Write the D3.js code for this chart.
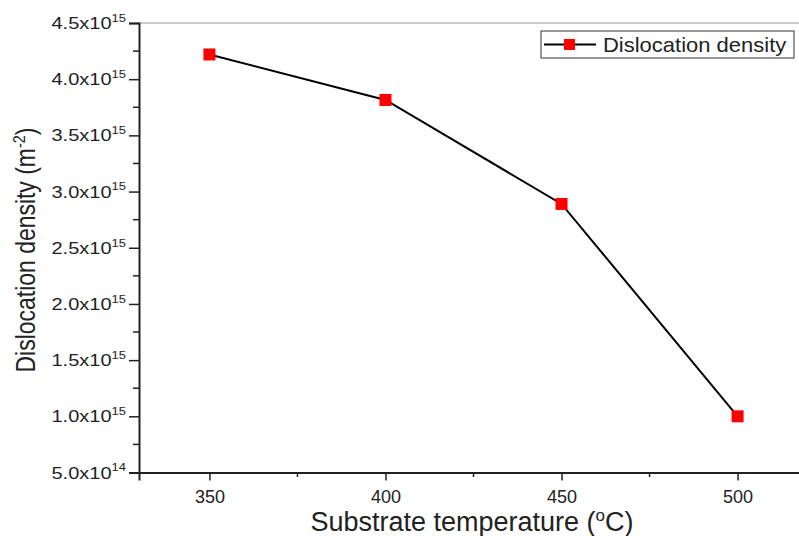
<!DOCTYPE html>
<html>
<head>
<meta charset="utf-8">
<script src="https://cdn.jsdelivr.net/npm/d3@7"></script>
<style>
  body { margin: 0; background: #fff; }
  text { font-family: "Liberation Sans", Arial, sans-serif; fill: #222; }
</style>
</head>
<body>
<div id="chart"></div>
<script>
var width = 799;
var height = 536;

// data
var temperatures = [350, 400, 450, 500];
var densities = [4.22e15, 3.815e15, 2.89e15, 1.0e15];
var xTicks = [350, 400, 450, 500];
var yTicks = [5e14, 1e15, 1.5e15, 2e15, 2.5e15, 3e15, 3.5e15, 4e15, 4.5e15];
var yTickLabels = ["5.0", "1.0", "1.5", "2.0", "2.5", "3.0", "3.5", "4.0", "4.5"];
var yTickExp = ["14", "15", "15", "15", "15", "15", "15", "15", "15"];
var seriesName = "Dislocation density";

var x = d3.scaleLinear().domain([330, 520]).range([139, 808]);
var y = d3.scaleLinear().domain([5e14, 4.5e15]).range([472.5, 23]);

var svg = d3.select("#chart").append("svg")
    .attr("width", width)
    .attr("height", height);

// top frame line (thin grey)
svg.append("line")
    .attr("x1", x(330)).attr("x2", width)
    .attr("y1", y(4.5e15)).attr("y2", y(4.5e15))
    .attr("stroke", "#999").attr("stroke-width", 1);

// minor ticks
var yMinor = d3.range(7.5e14, 4.5e15, 5e14);
svg.selectAll(".yminor").data(yMinor).enter().append("line")
    .attr("x1", 133).attr("x2", 139)
    .attr("y1", function(d){ return y(d); })
    .attr("y2", function(d){ return y(d); })
    .attr("stroke", "#222").attr("stroke-width", 1.5);

var xMinor = [375, 425, 475];
svg.selectAll(".xminor").data(xMinor).enter().append("line")
    .attr("x1", function(d){ return x(d); })
    .attr("x2", function(d){ return x(d); })
    .attr("y1", 472.5).attr("y2", 477)
    .attr("stroke", "#222").attr("stroke-width", 1.5);

// x axis
var xAxis = svg.append("g")
    .attr("transform", "translate(0," + 472.5 + ")")
    .call(d3.axisBottom(x).tickValues(xTicks).tickSizeOuter(0).tickSize(8).tickPadding(10));
xAxis.select(".domain").attr("stroke", "#222").attr("stroke-width", 2);
xAxis.selectAll(".tick line").attr("stroke", "#222").attr("stroke-width", 1.5);
xAxis.selectAll(".tick text")
    .style("font-family", "Liberation Sans, Arial, sans-serif")
    .attr("font-size", 18).attr("fill", "#222");

// y axis
var yAxis = svg.append("g")
    .attr("transform", "translate(139,0)")
    .call(d3.axisLeft(y).tickValues(yTicks).tickSizeOuter(0).tickSize(10).tickFormat(""));
yAxis.select(".domain").attr("stroke", "#222").attr("stroke-width", 2);
yAxis.selectAll(".tick line").attr("stroke", "#222").attr("stroke-width", 1.5);

// y tick labels with superscript exponents (picture is a bit squashed vertically)
var yLab = svg.selectAll(".ylab").data(yTicks).enter().append("text")
    .attr("transform", function(d){ return "translate(126," + (y(d) + 6) + ") scale(1,0.8)"; })
    .attr("text-anchor", "end")
    .attr("font-size", 20);
yLab.append("tspan").text(function(d, i){ return yTickLabels[i] + "x10"; });
yLab.append("tspan")
    .attr("dy", -9)
    .attr("font-size", 13)
    .text(function(d, i){ return yTickExp[i]; });

// line
var line = d3.line()
    .x(function(d){ return x(d[0]); })
    .y(function(d){ return y(d[1]); });
var pts = temperatures.map(function(t, i){ return [t, densities[i]]; });

svg.append("path")
    .datum(pts)
    .attr("d", line)
    .attr("fill", "none")
    .attr("stroke", "#000")
    .attr("stroke-width", 2);

// markers
svg.selectAll(".pt").data(pts).enter().append("rect")
    .attr("x", function(d){ return x(d[0]) - 6; })
    .attr("y", function(d){ return y(d[1]) - 6; })
    .attr("width", 12).attr("height", 12)
    .attr("fill", "#ff0000");

// legend
var legend = svg.append("g").attr("transform", "translate(541,31)");
legend.append("rect")
    .attr("width", 253).attr("height", 27)
    .attr("fill", "#fff").attr("stroke", "#333").attr("stroke-width", 1);
legend.append("line")
    .attr("x1", 3).attr("x2", 55).attr("y1", 13.5).attr("y2", 13.5)
    .attr("stroke", "#000").attr("stroke-width", 2);
legend.append("rect")
    .attr("x", 23).attr("y", 8).attr("width", 11).attr("height", 11)
    .attr("fill", "#ff0000");
legend.append("text")
    .attr("transform", "translate(62,21) scale(1,0.9)")
    .attr("font-size", 22)
    .text(seriesName);

// axis titles
var xt = svg.append("text")
    .attr("x", 472).attr("y", 531)
    .attr("text-anchor", "middle")
    .attr("font-size", 27);
xt.append("tspan").text("Substrate temperature (");
xt.append("tspan").attr("dy", -10).attr("font-size", 17).text("o");
xt.append("tspan").attr("dy", 10).text("C)");

var yt = svg.append("text")
    .attr("transform", "translate(35,250) rotate(-90) scale(0.85,1)")
    .attr("text-anchor", "middle")
    .attr("font-size", 27);
yt.append("tspan").text("Dislocation density (m");
yt.append("tspan").attr("dy", -10).attr("font-size", 17).text("-2");
yt.append("tspan").attr("dy", 10).text(")");
</script>
</body>
</html>
